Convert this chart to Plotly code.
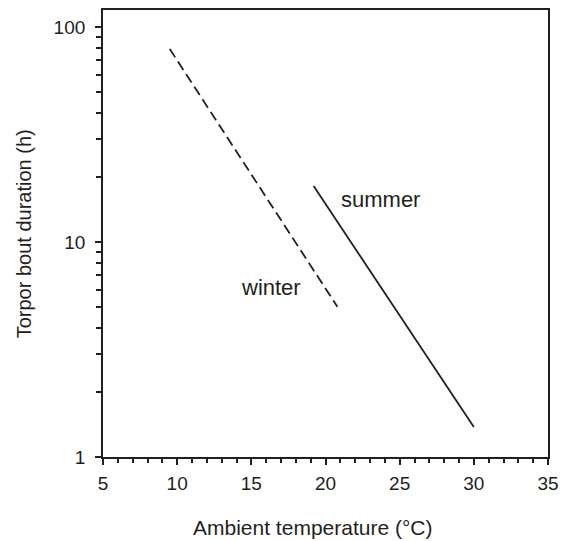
import plotly.graph_objects as go

# Data
winter_temp = [9.5, 20.8]
winter_bout = [79, 5.0]
summer_temp = [19.2, 30.0]
summer_bout = [18.2, 1.38]

x_ticks = [5, 10, 15, 20, 25, 30, 35]
y_ticks = [1, 10, 100]
y_tick_labels = ["1", "10", "100"]
y_minor = [2, 3, 4, 5, 6, 7, 8, 9, 20, 30, 40, 50, 60, 70, 80, 90]
x_minor = list(range(5, 36))

ink = "#231f20"
font_family = "Liberation Sans, Arial, Helvetica, sans-serif"

fig = go.Figure()
fig.add_trace(go.Scatter(x=winter_temp, y=winter_bout, mode="lines",
                         line=dict(color=ink, width=1.8, dash="10px,5px"),
                         showlegend=False, hoverinfo="skip"))
fig.add_trace(go.Scatter(x=summer_temp, y=summer_bout, mode="lines",
                         line=dict(color=ink, width=1.8),
                         showlegend=False, hoverinfo="skip"))

fig.add_annotation(x=23.7, y=1.199, xref="x", yref="y", text="summer",
                   showarrow=False, font=dict(size=22, color=ink, family=font_family))
fig.add_annotation(x=16.3, y=0.787, xref="x", yref="y", text="winter",
                   showarrow=False, font=dict(size=22, color=ink, family=font_family))

# axis titles
fig.add_annotation(x=0.47, y=-0.158, xref="paper", yref="paper",
                   text="Ambient temperature (°C)", showarrow=False,
                   xanchor="center", yanchor="middle",
                   font=dict(size=21, color=ink, family=font_family))
fig.add_annotation(x=-0.178, y=0.5, xref="paper", yref="paper",
                   text="Torpor bout duration (h)", showarrow=False, textangle=-90,
                   xanchor="center", yanchor="middle",
                   font=dict(size=20, color=ink, family=font_family))

fig.update_layout(
    width=567, height=541,
    margin=dict(l=103, r=15, t=8, b=84),
    paper_bgcolor="white", plot_bgcolor="white",
    font=dict(family=font_family, color=ink),
)
fig.update_xaxes(
    range=[5, 35], tickvals=x_ticks, ticks="outside", ticklen=6, tickwidth=1.5,
    tickcolor=ink, showline=True, linecolor=ink, linewidth=1.8, mirror=True,
    showgrid=False, zeroline=False, tickfont=dict(size=19), ticklabelstandoff=2,
    minor=dict(tickvals=x_minor, ticks="outside", ticklen=4, tickwidth=1.5, tickcolor=ink, showgrid=False),
)
fig.update_yaxes(
    type="log", range=[0, 2.079], tickvals=y_ticks, ticktext=y_tick_labels,
    ticks="outside", ticklen=6, tickwidth=1.5, tickcolor=ink,
    showline=True, linecolor=ink, linewidth=1.8, mirror=True,
    showgrid=False, zeroline=False, tickfont=dict(size=19), ticklabelstandoff=6,
    minor=dict(tickvals=y_minor, ticks="outside", ticklen=5, tickwidth=1.5, tickcolor=ink, showgrid=False),
)

fig.write_html("out.html")
